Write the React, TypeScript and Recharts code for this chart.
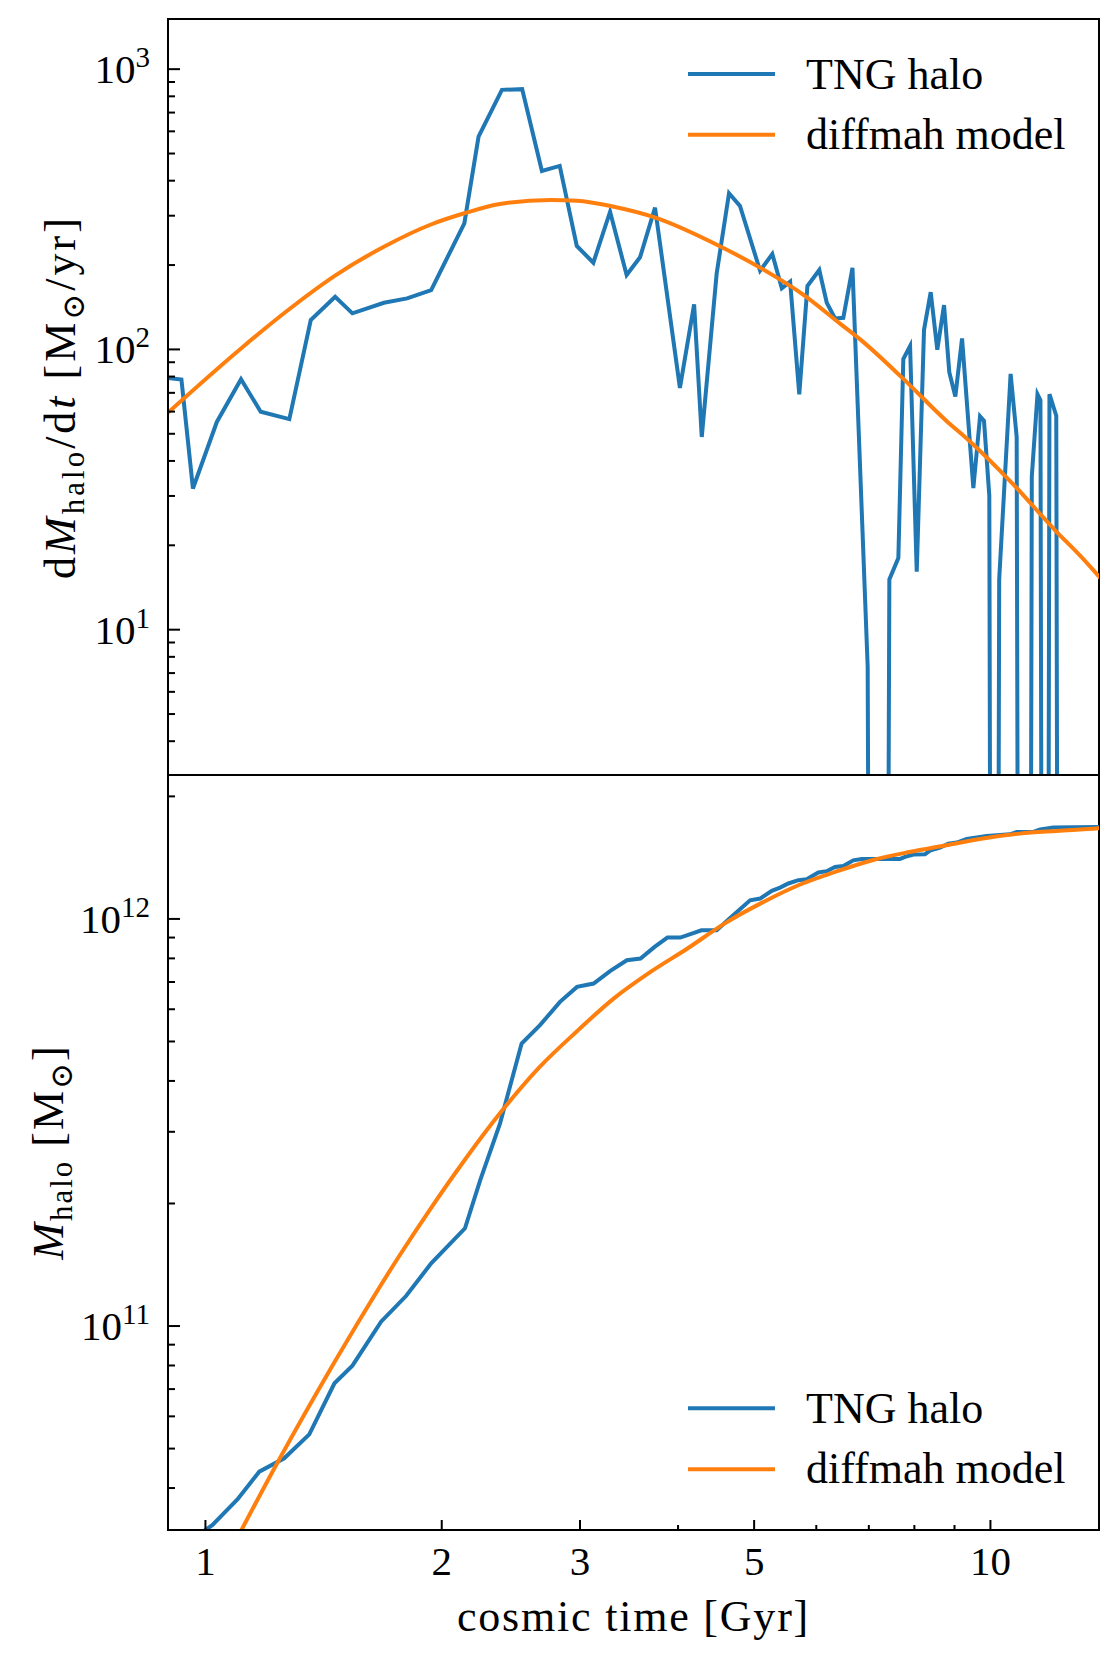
import React from "react";
import { LineChart, Line, XAxis, YAxis, Legend, ReferenceArea } from "recharts";

// TNG halo: cosmic time [Gyr] and accretion rate [Msun/yr]; 0 = no accretion
const rateTimes = [
  0.88, 0.932, 0.964, 1.034, 1.11, 1.176, 1.279, 1.362, 1.463, 1.539, 1.688, 1.807,
  1.939, 2.137, 2.228, 2.386, 2.532, 2.683, 2.827, 2.972, 3.12, 3.277, 3.44, 3.578,
  3.739, 4.022, 4.193, 4.288, 4.48, 4.645, 4.797, 5.088, 5.274, 5.423, 5.557, 5.708,
  5.846, 6.053, 6.187, 6.339, 6.495, 6.672, 6.976, 7.129, 7.277, 7.434, 7.633, 7.745,
  7.9, 8.056, 8.23, 8.393, 8.557, 8.728, 8.863, 9.022, 9.201, 9.511, 9.7, 9.813,
  9.967, 10.11, 10.26, 10.61, 10.8, 10.97, 11.13, 11.29, 11.48, 11.58, 11.74, 11.89,
  12.13, 12.3, 12.5, 12.7, 12.9, 13.1, 13.3, 13.5, 13.8,
];
const rateValues = [
  79.6, 78.1, 31.9, 55.1, 78.3, 59.9, 56.4, 127.2, 154.1, 134.5, 146.7, 152.1,
  162.8, 281.8, 574.6, 843.7, 848.6, 433.4, 451.5, 233.9, 203.9, 310, 184.2, 213.1,
  320.4, 72.9, 144.8, 48.7, 186.8, 360.7, 324.9, 190.9, 219, 165.2, 174.4, 69.1,
  168.3, 192, 146.7, 129, 129.7, 195.5, 7.4, 0, 0, 15.1, 18.0, 92.4,
  102.8, 16.1, 117.5, 160.1, 99.8, 143.9, 82.9, 67.9, 109.4, 32.0, 57.7, 55.6,
  30.1, 0, 15.1, 81.8, 48.8, 0, 0, 35.2, 69.2, 65.9, 0, 69.2,
  58.0, 0, 0, 0, 0, 0, 0, 0, 0,
];

// TNG halo: cosmic time [Gyr] and halo mass [Msun]
const massTimes = [
  0.964, 1.021, 1.099, 1.171, 1.26, 1.356, 1.46, 1.539, 1.674, 1.801, 1.939, 2.141,
  2.239, 2.373, 2.528, 2.668, 2.829, 2.974, 3.122, 3.28, 3.442, 3.583, 3.734, 3.877,
  4.027, 4.284, 4.48, 4.645, 4.941, 5.088, 5.266, 5.395, 5.528, 5.693, 5.834, 6.036,
  6.187, 6.339, 6.495, 6.688, 6.855, 7.67, 7.785, 7.977, 8.255, 8.39, 8.626, 8.84,
  9.06, 9.329, 9.892, 10.59, 10.8, 11.34, 11.57, 12.03, 13.66, 13.8,
];
const massValues = [
  3.0e10, 3.247e10, 3.754e10, 4.388e10, 4.734e10, 5.42e10, 7.233e10, 7.99e10, 1.025e11, 1.185e11, 1.426e11, 1.738e11,
  2.283e11, 3.146e11, 4.944e11, 5.483e11, 6.256e11, 6.808e11, 6.94e11, 7.453e11, 7.917e11, 7.994e11, 8.537e11, 9.0e11,
  9.0e11, 9.38e11, 9.38e11, 1.0e12, 1.111e12, 1.122e12, 1.172e12, 1.194e12, 1.222e12, 1.245e12, 1.252e12, 1.3e12,
  1.31e12, 1.342e12, 1.349e12, 1.393e12, 1.404e12, 1.404e12, 1.42e12, 1.439e12, 1.442e12, 1.475e12, 1.497e12, 1.531e12,
  1.54e12, 1.572e12, 1.599e12, 1.614e12, 1.635e12, 1.635e12, 1.658e12, 1.677e12, 1.683e12, 1.683e12,
];

// diffmah model curves
const modelRateTimes = [
  0.89, 1.11, 1.265, 1.466, 1.688, 1.945, 2.137, 2.372, 2.752, 2.974, 3.314, 3.734,
  4.536, 5.1, 5.826, 6.433, 6.842, 7.699, 8.77, 9.38, 10.67, 12.15, 13.0, 13.8,
];
const modelRateValues = [
  58.5, 100.8, 136, 184.2, 232.5, 280.2, 306, 330.3, 341.4, 339.4, 323, 296,
  232.5, 195, 154.1, 123.6, 107.9, 79.8, 55.9, 47.4, 33.2, 22.3, 18.4, 15.3,
];
const modelMassTimes = [
  1.111, 1.234, 1.371, 1.555, 1.763, 1.932, 2.137, 2.372, 2.666, 2.974, 3.314, 3.69,
  4.112, 4.583, 5.111, 5.693, 6.344, 7.07, 7.88, 8.78, 9.78, 10.9, 12.15, 13.71, 13.8,
];
const modelMassValues = [
  3.15e10, 4.6e10, 6.61e10, 1.0e11, 1.48e11, 1.933e11, 2.551e11, 3.33e11, 4.33e11, 5.3e11, 6.38e11, 7.41e11,
  8.46e11, 9.74e11, 1.095e12, 1.21e12, 1.305e12, 1.394e12, 1.46e12, 1.517e12, 1.576e12, 1.62e12, 1.645e12, 1.67e12, 1.672e12,
];

const xTicks = [1, 2, 3, 4, 5, 6, 7, 8, 9, 10];
const xLabeled = [1, 2, 3, 5, 10];
const rateTicks = [4, 5, 6, 7, 8, 9, 10, 20, 30, 40, 50, 60, 70, 80, 90, 100, 200, 300, 400, 500, 600, 700, 800, 900, 1000];
const rateMajor = [10, 100, 1000];
const massTicks = [
  4e10, 5e10, 6e10, 7e10, 8e10, 9e10, 1e11, 2e11, 3e11, 4e11, 5e11, 6e11, 7e11, 8e11, 9e11, 1e12, 2e12,
];
const massMajor = [1e11, 1e12];

const X_DOMAIN = [0.896, 13.75];
const RATE_DOMAIN = [3.03, 1510];
const MASS_DOMAIN = [3.155e10, 2.257e12];

const BLUE = "#1f77b4";
const ORANGE = "#ff7f0e";
const FONT = '"Liberation Serif", "DejaVu Serif", serif';
const LW = 4;

// log axes cannot show 0, so zero-rate snapshots sit far below the axis
const tngRate = rateTimes.map((t, i) => ({ t, v: rateValues[i] > 0 ? rateValues[i] : 1e-6 }));
const tngMass = massTimes.map((t, i) => ({ t, v: massValues[i] }));
const modelRate = modelRateTimes.map((t, i) => ({ t, v: modelRateValues[i] }));
const modelMass = modelMassTimes.map((t, i) => ({ t, v: modelMassValues[i] }));

const isIn = (list: number[], v: number) => list.some((m) => Math.abs(m - v) / m < 1e-9);

const yTick = (majors: number[]) => (props: any) => {
  const { y, payload } = props;
  const v = payload.value;
  const major = isIn(majors, v);
  return (
    <g key={`y-${v}`}>
      <line x1={168} x2={168 + (major ? 12 : 7)} y1={y} y2={y} stroke="#000" strokeWidth={2} />
      {major && (
        <text x={150} y={y + 14} textAnchor="end" fontFamily={FONT} fontSize={41} fill="#000">
          10
          <tspan dy={-16} fontSize={29}>
            {Math.round(Math.log10(v))}
          </tspan>
        </text>
      )}
    </g>
  );
};

const xTick = (base: number, withLabels: boolean) => (props: any) => {
  const { x, payload } = props;
  const v = payload.value;
  const major = isIn(xLabeled, v);
  return (
    <g key={`x-${v}`}>
      <line x1={x} x2={x} y1={base} y2={base - (major ? 10 : 5)} stroke="#000" strokeWidth={2} />
      {withLabels && major && (
        <text x={x} y={base + 45} textAnchor="middle" fontFamily={FONT} fontSize={41} fill="#000">
          {v}
        </text>
      )}
    </g>
  );
};

const RateLabel = () => (
  <text
    transform="translate(75,397) rotate(-90)"
    textAnchor="middle"
    fontFamily={FONT}
    fontSize={44}
    letterSpacing={3}
    fill="#000"
  >
    d<tspan fontStyle="italic">M</tspan>
    <tspan dy={9} fontSize={31}>halo</tspan>
    <tspan dy={-9}>/d</tspan>
    <tspan fontStyle="italic">t</tspan>
    <tspan> [M</tspan>
    <tspan dy={9} fontSize={31}>⊙</tspan>
    <tspan dy={-9}>/yr]</tspan>
  </text>
);

const MassLabel = () => (
  <text
    transform="translate(63,392) rotate(-90)"
    textAnchor="middle"
    fontFamily={FONT}
    fontSize={44}
    letterSpacing={2}
    fill="#000"
  >
    <tspan fontStyle="italic">M</tspan>
    <tspan dy={9} fontSize={31}>halo</tspan>
    <tspan dy={-9}> [M</tspan>
    <tspan dy={9} fontSize={31}>⊙</tspan>
    <tspan dy={-9}>]</tspan>
  </text>
);

const TimeLabel = () => (
  <text x={633.5} y={871} textAnchor="middle" fontFamily={FONT} fontSize={44} letterSpacing={1.8} fill="#000">
    cosmic time [Gyr]
  </text>
);

const legendContent = (lineY: number[], textY: number[]) => (props: any) => {
  const items =
    props.payload && props.payload.length
      ? props.payload.map((p: any) => ({ name: p.value, color: p.color }))
      : [
          { name: "TNG halo", color: BLUE },
          { name: "diffmah model", color: ORANGE },
        ];
  return (
    <svg width={420} height={130} style={{ overflow: "visible" }}>
      {items.map((it: any, i: number) => (
        <g key={it.name}>
          <line x1={8} x2={95} y1={lineY[i]} y2={lineY[i]} stroke={it.color} strokeWidth={LW} />
          <text x={126} y={textY[i]} fontFamily={FONT} fontSize={44} fill="#000">
            {it.name}
          </text>
        </g>
      ))}
    </svg>
  );
};

export default function App() {
  return (
    <div style={{ position: "absolute", left: 0, top: 0, width: 1119, height: 1664, background: "#fff" }}>
      <div style={{ position: "absolute", left: 0, top: 0 }}>
        <LineChart width={1119} height={790} margin={{ top: 19, right: 20, bottom: 15, left: 0 }}>
          <XAxis
            dataKey="t"
            type="number"
            scale="log"
            domain={X_DOMAIN}
            allowDataOverflow
            ticks={xTicks}
            interval={0}
            height={0}
            axisLine={{ stroke: "#000", strokeWidth: 2 }}
            tickLine={false}
            tick={xTick(775, false)}
          />
          <YAxis
            type="number"
            scale="log"
            domain={RATE_DOMAIN}
            allowDataOverflow
            ticks={rateTicks}
            interval={0}
            width={168}
            axisLine={{ stroke: "#000", strokeWidth: 2 }}
            tickLine={false}
            tick={yTick(rateMajor)}
            label={<RateLabel />}
          />
          <ReferenceArea
            x1={X_DOMAIN[0]}
            x2={X_DOMAIN[1]}
            y1={RATE_DOMAIN[0]}
            y2={RATE_DOMAIN[1]}
            ifOverflow="visible"
            fill="none"
            fillOpacity={0}
            stroke="#000"
            strokeWidth={2}
          />
          <Legend
            layout="horizontal"
            verticalAlign="middle"
            align="center"
            wrapperStyle={{ left: 680, top: 40, width: 420, height: 130 }}
            content={legendContent([34, 94.7], [49, 109.3])}
          />
          <Line data={tngRate} dataKey="v" name="TNG halo" type="linear" stroke={BLUE} strokeWidth={LW} dot={false} isAnimationActive={false} />
          <Line data={modelRate} dataKey="v" name="diffmah model" type="monotone" stroke={ORANGE} strokeWidth={LW} dot={false} isAnimationActive={false} />
        </LineChart>
      </div>
      <div style={{ position: "absolute", left: 0, top: 760 }}>
        <LineChart width={1119} height={904} margin={{ top: 15, right: 20, bottom: 0, left: 0 }}>
          <XAxis
            dataKey="t"
            type="number"
            scale="log"
            domain={X_DOMAIN}
            allowDataOverflow
            ticks={xTicks}
            interval={0}
            height={134}
            axisLine={{ stroke: "#000", strokeWidth: 2 }}
            tickLine={false}
            tick={xTick(770, true)}
            label={<TimeLabel />}
          />
          <YAxis
            type="number"
            scale="log"
            domain={MASS_DOMAIN}
            allowDataOverflow
            ticks={massTicks}
            interval={0}
            width={168}
            axisLine={{ stroke: "#000", strokeWidth: 2 }}
            tickLine={false}
            tick={yTick(massMajor)}
            label={<MassLabel />}
          />
          <ReferenceArea
            x1={X_DOMAIN[0]}
            x2={X_DOMAIN[1]}
            y1={MASS_DOMAIN[0]}
            y2={MASS_DOMAIN[1]}
            ifOverflow="visible"
            fill="none"
            fillOpacity={0}
            stroke="#000"
            strokeWidth={2}
          />
          <Legend
            layout="horizontal"
            verticalAlign="middle"
            align="center"
            wrapperStyle={{ left: 680, top: 610, width: 420, height: 130 }}
            content={legendContent([38.3, 99.3], [52.7, 113.3])}
          />
          <Line data={tngMass} dataKey="v" name="TNG halo" type="linear" stroke={BLUE} strokeWidth={LW} dot={false} isAnimationActive={false} />
          <Line data={modelMass} dataKey="v" name="diffmah model" type="monotone" stroke={ORANGE} strokeWidth={LW} dot={false} isAnimationActive={false} />
        </LineChart>
      </div>
    </div>
  );
}
